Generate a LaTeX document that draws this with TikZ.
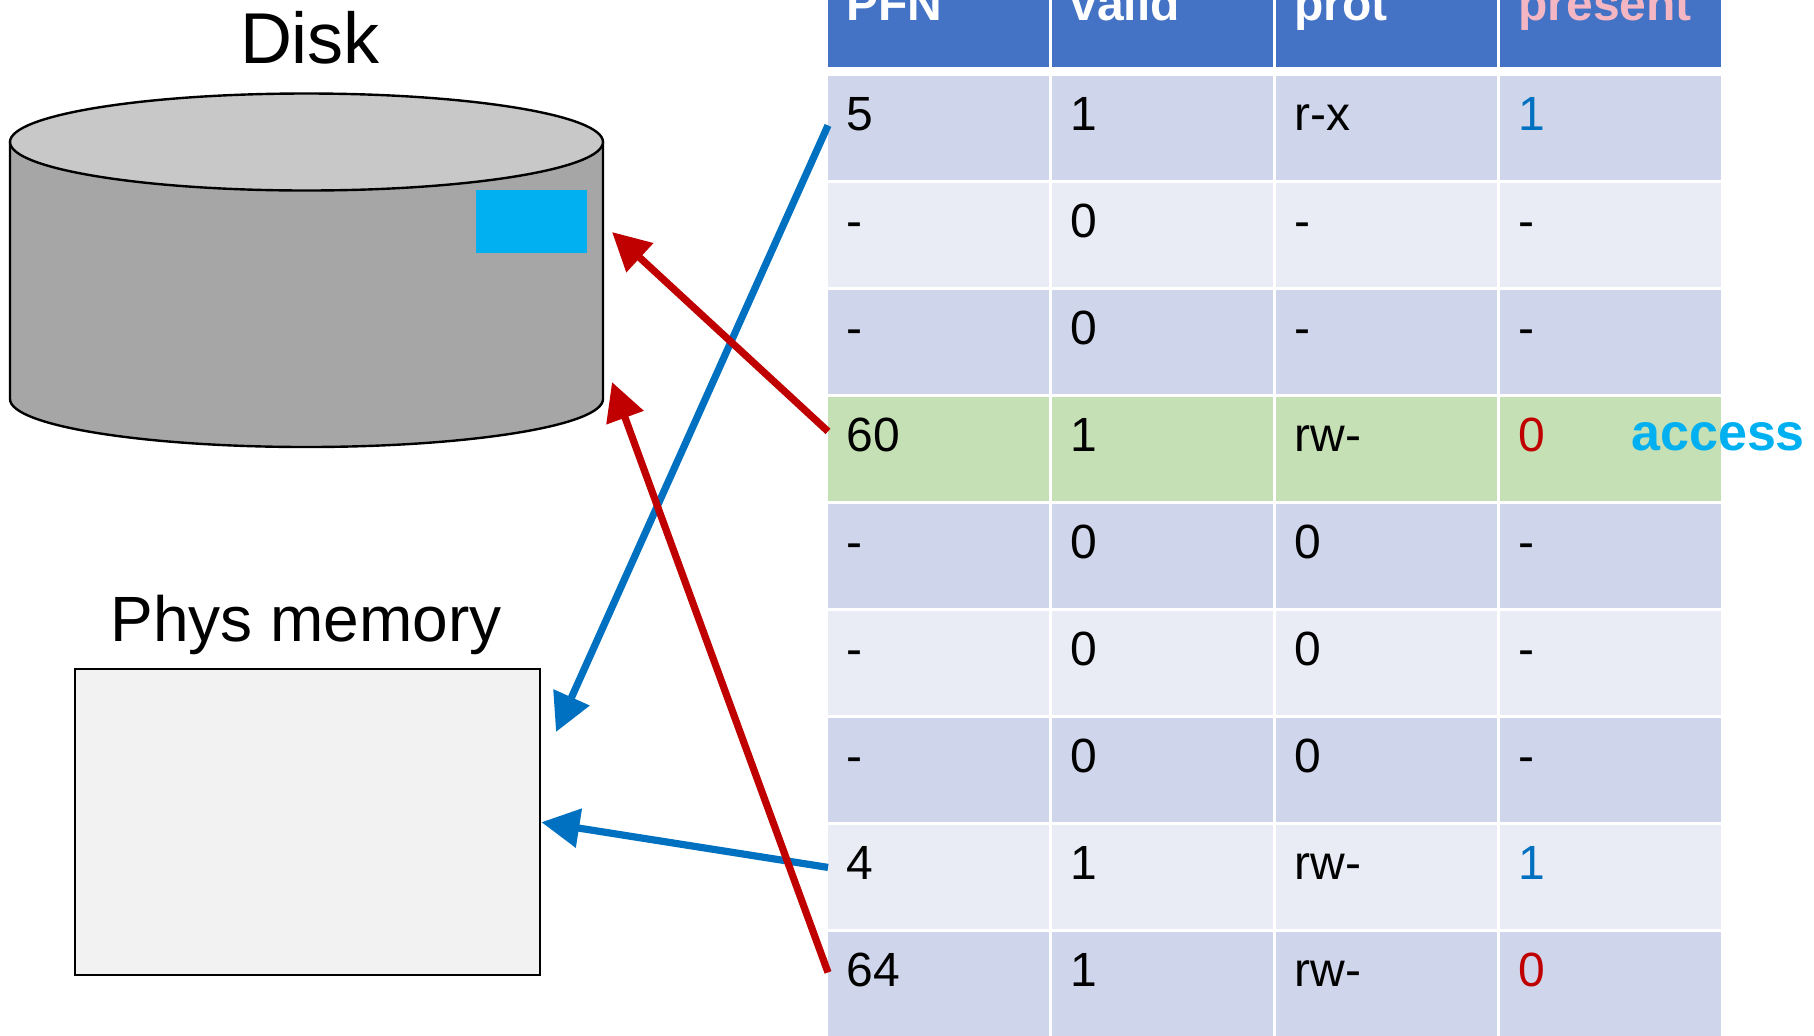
\documentclass[tikz,border=0pt]{standalone}
\usepackage{fontspec}
\setmainfont{Liberation Sans}
\usetikzlibrary{arrows.meta}
\definecolor{hdrblue}{HTML}{4472C4}
\definecolor{rowdark}{HTML}{CFD5EA}
\definecolor{rowlight}{HTML}{E9EBF5}
\definecolor{rowhit}{HTML}{C5E0B4}
\definecolor{pblue}{HTML}{0070C0}
\definecolor{pred}{HTML}{C00000}
\definecolor{ppink}{HTML}{F4B6C2}
\definecolor{acccyan}{HTML}{00B0F0}
\definecolor{diskside}{HTML}{A6A6A6}
\definecolor{disktop}{HTML}{C8C8C8}
\definecolor{memgray}{HTML}{F2F2F2}
\newcommand\presY{\textcolor{pblue}{1}}
\newcommand\presN{\textcolor{pred}{0}}
\begin{document}
\begin{tikzpicture}[x=0.5pt,y=-0.5pt,
  cell/.style={anchor=north west,minimum width=110.5pt,minimum height=52pt,
    inner xsep=9pt,inner ysep=0pt,text height=27pt,text depth=25pt,
    text width=92.5pt,align=left,font=\fontsize{24}{28}\selectfont},
  hdr/.style={cell,fill=hdrblue,text=white,minimum height=53.5pt,
    text height=30pt,text depth=23.5pt,font=\fontsize{24}{28}\selectfont\bfseries},
  ptr/.style={line width=3.6pt,-{Triangle[length=19pt,width=19pt]}}]
  \useasboundingbox (0,0) rectangle (1814,1035);
  \clip (0,0) rectangle (1814,1035);
  % page table
  \foreach \j/\t in {0/PFN,1/valid,2/prot,3/{\textcolor{ppink}{present}}}
    \node[hdr] (h\j) at (828+\j*224,-40) {\t};
  \foreach \i/\a/\b/\c/\d/\f in {1/5/1/r-x/\presY/rowdark,2/-/0/-/-/rowlight,
      3/-/0/-/-/rowdark,4/60/1/rw-/\presN/rowhit,5/-/0/0/-/rowdark,
      6/-/0/0/-/rowlight,7/-/0/0/-/rowdark,8/4/1/rw-/\presY/rowlight,
      9/64/1/rw-/\presN/rowdark}{
    \node[cell,fill=\f] (c\i-1) at (828,107*\i-31) {\a};
    \node[cell,fill=\f] (c\i-2) at (1052,107*\i-31) {\b};
    \node[cell,fill=\f] (c\i-3) at (1276,107*\i-31) {\c};
    \node[cell,fill=\f] (c\i-4) at (1500,107*\i-31) {\d};
  }
  \node[anchor=base west,inner sep=0pt,text=acccyan,
    font=\fontsize{26}{30}\selectfont\bfseries] (acc) at (1631,450) {access};
  % disk
  \node[anchor=base,font=\fontsize{36}{40}\selectfont] (disklbl) at (310,63) {Disk};
  \filldraw[fill=diskside,line width=1.2pt] (10,142) -- (10,399)
    arc[start angle=180,end angle=0,x radius=296.5,y radius=48] -- (603,142) -- cycle;
  \filldraw[fill=disktop,line width=1.2pt] (306.5,142) ellipse[x radius=296.5,y radius=48.5];
  \fill[acccyan] (476,190) rectangle (587,253);
  \coordinate (diskhi) at (612,232);
  \coordinate (disklo) at (612,382);
  % physical memory
  \node[anchor=base,font=\fontsize{32}{36}\selectfont] (memlbl) at (306,641) {Phys memory};
  \node[draw,fill=memgray,line width=1.2pt,anchor=north west,inner sep=0pt,
    minimum width=232.5pt,minimum height=153pt] (mem) at (74,668) {};
  \coordinate (memtop) at (556,732);
  % mappings
  \draw[ptr,pblue] ([yshift=1.5pt]c1-1.west) -- (memtop);
  \draw[ptr,pblue] ([yshift=5pt]c8-1.west) -- (mem.east);
  \draw[ptr,pred] ([yshift=9pt]c4-1.west) -- (diskhi);
  \draw[ptr,pred] ([yshift=6pt]c9-1.west) -- (disklo);
\end{tikzpicture}
\end{document}
